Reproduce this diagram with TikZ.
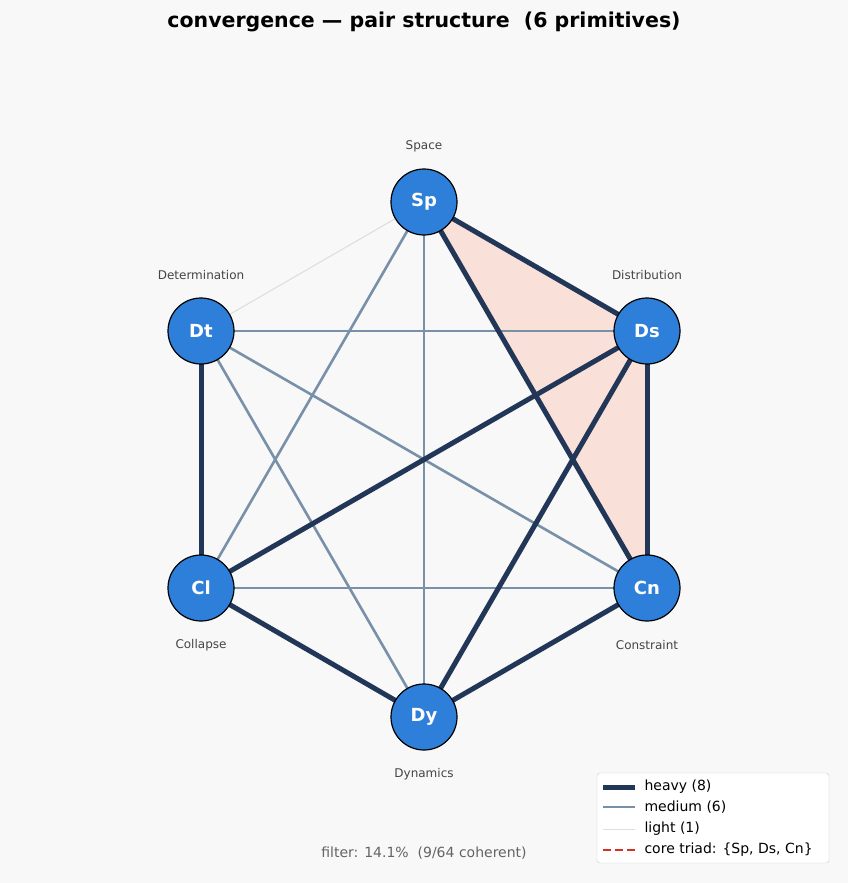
\documentclass[tikz,border=0pt]{standalone}
\usepackage{fontspec}
\setmainfont{DejaVu Sans}
\begin{document}
\begin{tikzpicture}[x=1pt,y=-1pt,
  heavy/.style={draw=hv,line width=5pt},
  medium/.style={draw=md,line width=2.6pt},
  light/.style={draw=lt,line width=1pt},
  prim/.style={circle,draw=black,line width=1.2pt,fill=nb,minimum size=66pt,inner sep=0pt,text=white,font=\bfseries\fontsize{18}{20}\selectfont},
  lab/.style={text=lbl,font=\fontsize{12}{14}\selectfont}]
\definecolor{hv}{HTML}{223757}
\definecolor{md}{HTML}{7890A8}
\definecolor{lt}{HTML}{DDDDDD}
\definecolor{nb}{HTML}{2E7FD9}
\definecolor{lbl}{HTML}{444444}
\definecolor{tri}{HTML}{F9E0D9}
\fill[fill={rgb,255:red,248;green,248;blue,248}] (0,0) rectangle (848,883);
\useasboundingbox (0,0) rectangle (848,883);
\node[font=\bfseries\fontsize{20.5}{24}\selectfont] (title) at (424,22) {convergence — pair structure\ \ (6 primitives)};
\coordinate (pSp) at (424,202); \coordinate (pDs) at (647,331); \coordinate (pCn) at (647,588);
\coordinate (pDy) at (424,717); \coordinate (pCl) at (201,588); \coordinate (pDt) at (201,331);
\fill[tri] (pSp) -- (pDs) -- (pCn) -- cycle;
\draw[light] (pSp) -- (pDt);
\foreach \a/\b in {Sp/Dy,Sp/Cl,Dt/Ds,Dt/Cn,Dt/Dy,Cl/Cn} \draw[medium] (p\a) -- (p\b);
\foreach \a/\b in {Sp/Ds,Sp/Cn,Ds/Cn,Ds/Cl,Ds/Dy,Cn/Dy,Cl/Dy,Dt/Cl} \draw[heavy] (p\a) -- (p\b);
\foreach \n in {Sp,Ds,Cn,Dy,Cl,Dt} \node[prim] (\n) at (p\n) {\n};
\node[lab] (lSp) at (424,146) {Space};
\node[lab] (lDs) at (647,275) {Distribution};
\node[lab] (lDt) at (201,275) {Determination};
\node[lab] (lCl) at (201,645) {Collapse};
\node[lab] (lCn) at (647,645) {Constraint};
\node[lab] (lDy) at (424,774) {Dynamics};
\node[text={rgb,255:red,100;green,100;blue,100},font=\fontsize{14}{16}\selectfont] (filt) at (424,853) {filter: 14.1\%\ \ (9/64 coherent)};
\draw[draw={rgb,255:red,204;green,204;blue,204},fill=white,rounded corners=3pt] (597,773) rectangle (829,863);
\begin{scope}[font=\fontsize{14}{16}\selectfont]
\draw[heavy] (603,787) -- (635,787); \node[anchor=west] (g1) at (641,787) {heavy (8)};
\draw[medium] (603,807) -- (635,807); \node[anchor=west] (g2) at (641,807) {medium (6)};
\draw[light] (603,829) -- (635,829); \node[anchor=west] (g3) at (641,829) {light (1)};
\draw[draw={rgb,255:red,214;green,48;blue,39},line width=2pt,dash pattern=on 8pt off 4pt] (603,850) -- (635,850); \node[anchor=west] (g4) at (641,850) {core triad: \{Sp, Ds, Cn\}};
\end{scope}
\end{tikzpicture}
\end{document}
